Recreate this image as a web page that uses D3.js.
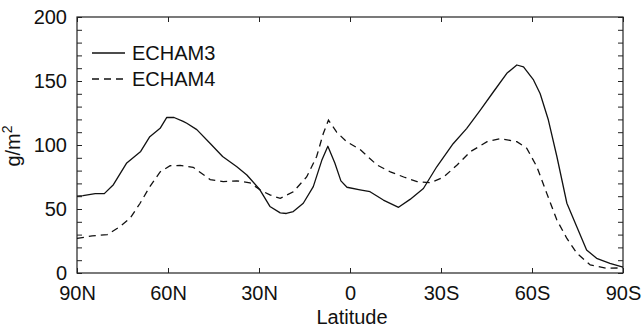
<!DOCTYPE html>
<html>
<head>
<meta charset="utf-8">
<script src="https://cdn.jsdelivr.net/npm/d3@7"></script>
<style>
  body { margin: 0; background: #fff; }
  text { font-family: "Liberation Sans", Arial, Helvetica, sans-serif; fill: #111; }
</style>
</head>
<body>
<div id="chart"></div>
<script>
// latitude ticks (positive = north)
const latTicks = [90, 60, 30, 0, -30, -60, -90];
const latTickLabels = ["90N", "60N", "30N", "0", "30S", "60S", "90S"];
const valueTicks = [0, 50, 100, 150, 200];

// ECHAM3 (solid) zonal mean values
const echam3Lat = [90, 88, 84, 81, 78, 73.6, 69, 66, 62.6, 60.4, 58, 55, 53.8, 50.5, 46, 42, 37.3, 34, 29.7, 26.4, 23, 21, 18.7, 15.4, 12.1, 9.3, 7.3, 5, 3, 1, -3.3, -6.6, -11, -16, -19.8, -24.2, -28.6, -34, -38.5, -42.9, -47.3, -51.7, -55, -57.2, -60.5, -62.7, -65.4, -68.2, -71.5, -74.8, -78, -81.3, -85.7, -90];
const echam3Val = [60, 60.5, 62, 62, 69, 86, 95, 106.5, 113, 121.6, 121.5, 118.5, 117, 112, 101, 91, 83, 76.6, 65, 52, 47, 46.5, 48, 54.5, 67.5, 88, 99, 86, 72, 67, 65, 63.5, 57, 51.3, 57.5, 66, 83, 101, 113, 127, 141.6, 156, 162.5, 161, 150.8, 140, 119.5, 91, 54.5, 36, 18, 11.5, 7.6, 4.5];

// ECHAM4 (dashed)
const echam4Lat = [90, 85, 80, 76, 72.5, 69.2, 66, 62.6, 59.3, 56, 51.7, 46.1, 41.8, 37.3, 33, 29.7, 26.4, 23, 18.7, 14.3, 11, 8.8, 7.1, 4.4, 1.1, -3.3, -8.9, -13.3, -17.7, -22.1, -26.5, -30.9, -35.3, -39.7, -45.2, -49.6, -55, -58.3, -61.6, -64.9, -68.2, -71.5, -74.8, -79.2, -84.6, -90];
const echam4Val = [27, 29, 30, 36, 42.7, 54.5, 67.4, 79, 83.8, 84, 82.6, 73, 71.4, 72, 70.5, 65, 61, 58.3, 63.5, 75, 91, 109, 119.5, 110, 102.6, 96.5, 84.4, 79, 75, 71.4, 70.5, 75, 84.4, 94.8, 102.6, 105, 102.6, 97.4, 83, 62, 41.4, 27, 15.4, 6.3, 3.7, 4];

const seriesNames = ["ECHAM3", "ECHAM4"];

var margin = {top: 17, right: 21, bottom: 58, left: 77},
    width = 644 - margin.left - margin.right,
    height = 331 - margin.top - margin.bottom;

var svg = d3.select("#chart")
  .append("svg")
    .attr("width", 644)
    .attr("height", 331)
  .append("g")
    .attr("transform", "translate(" + margin.left + "," + margin.top + ")");

var x = d3.scaleLinear().domain([90, -90]).range([0, width]);
var y = d3.scaleLinear().domain([0, 200]).range([height, 0]);

var minorY = d3.range(0, 201, 10);
var fontSize = 20;

// left axis: inward ticks every 10, labels every 50
var axLeft = svg.append("g")
  .call(d3.axisLeft(y).tickValues(minorY).tickSize(-5).tickPadding(10)
    .tickFormat(d => valueTicks.includes(d) ? d : ""));
// right axis
var axRight = svg.append("g")
  .attr("transform", "translate(" + width + ",0)")
  .call(d3.axisRight(y).tickValues(minorY).tickSize(-5).tickFormat(""));
// top axis
var axTop = svg.append("g")
  .call(d3.axisTop(x).tickValues(latTicks).tickSize(-5).tickFormat(""));
// bottom axis
var axBottom = svg.append("g")
  .attr("transform", "translate(0," + height + ")")
  .call(d3.axisBottom(x).tickValues(latTicks).tickSize(-5).tickPadding(14)
    .tickFormat((d, i) => latTickLabels[i]));

[axLeft, axRight, axTop, axBottom].forEach(g => {
  g.select(".domain").remove();
  g.selectAll(".tick line").attr("stroke", "#222");
  g.selectAll("text").attr("font-size", fontSize).attr("fill", "#111")
    .style("font-family", "'Liberation Sans', Arial, sans-serif");
});
axLeft.selectAll("text").attr("dy", "0.32em");
axBottom.selectAll("text").attr("dy", "0.66em");

// frame
svg.append("rect")
  .attr("width", width)
  .attr("height", height)
  .attr("fill", "none")
  .attr("stroke", "#222")
  .attr("stroke-width", 1.2);

// lines
var line = d3.line()
  .x(d => x(d[0]))
  .y(d => y(d[1]));

svg.append("path")
  .datum(d3.zip(echam3Lat, echam3Val))
  .attr("fill", "none")
  .attr("stroke", "#111")
  .attr("stroke-width", 1.3)
  .attr("stroke-linejoin", "round")
  .attr("d", line);

svg.append("path")
  .datum(d3.zip(echam4Lat, echam4Val))
  .attr("fill", "none")
  .attr("stroke", "#111")
  .attr("stroke-width", 1.3)
  .attr("stroke-dasharray", "7,5")
  .attr("d", line);

// legend
var legend = svg.append("g").attr("transform", "translate(15,36)");
seriesNames.forEach((name, i) => {
  legend.append("line")
    .attr("x1", 0).attr("x2", 33)
    .attr("y1", i * 26).attr("y2", i * 26)
    .attr("stroke", "#111")
    .attr("stroke-width", 1.3)
    .attr("stroke-dasharray", i == 1 ? "7,5" : null);
  legend.append("text")
    .attr("x", 40)
    .attr("y", i * 26 + 7)
    .attr("font-size", fontSize)
    .text(name);
});

// axis titles
svg.append("text")
  .attr("text-anchor", "middle")
  .attr("font-size", fontSize)
  .attr("x", width / 2 + 2)
  .attr("y", height + 51)
  .text("Latitude");

var ylab = svg.append("text")
  .attr("text-anchor", "middle")
  .attr("font-size", fontSize)
  .attr("transform", "translate(" + (20 - margin.left) + "," + (146 - margin.top) + ") rotate(-90)");
ylab.append("tspan").text("g/m");
ylab.append("tspan").attr("font-size", 14).attr("dy", "-0.55em").text("2");
</script>
</body>
</html>
